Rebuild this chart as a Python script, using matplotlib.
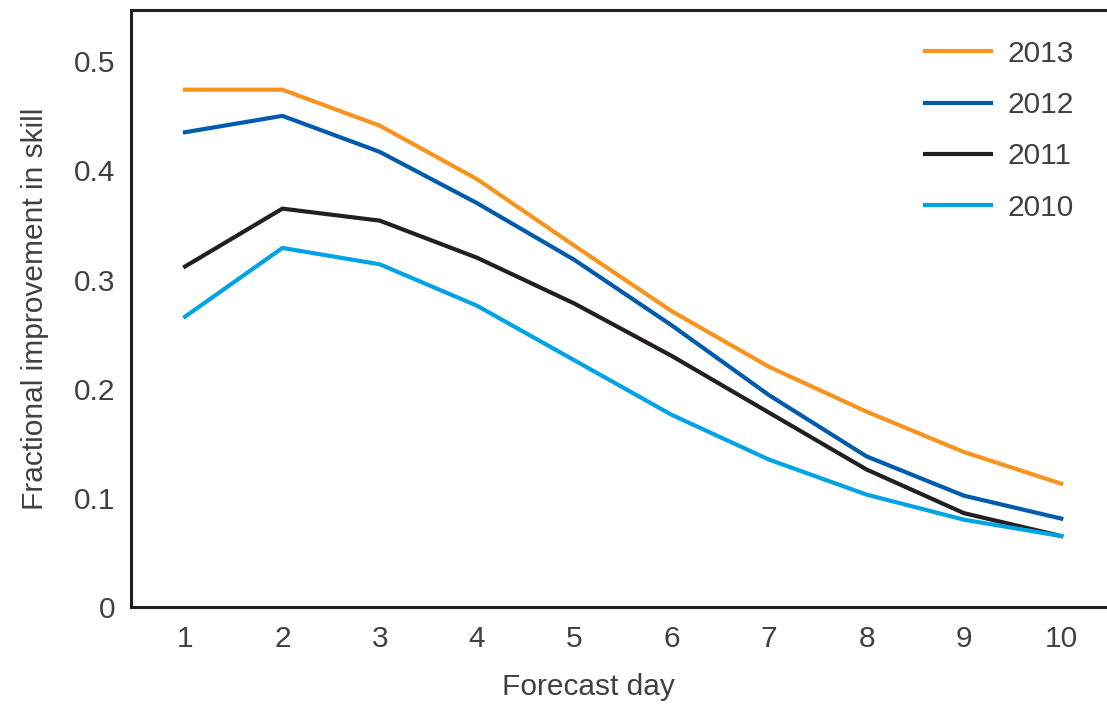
import matplotlib
matplotlib.use("Agg")
import matplotlib.pyplot as plt

plt.rcParams['font.family'] = ['Liberation Sans', 'DejaVu Sans']

days = [1, 2, 3, 4, 5, 6, 7, 8, 9, 10]
y2013 = [0.474, 0.474, 0.441, 0.392, 0.331, 0.271, 0.220, 0.179, 0.142, 0.113]
y2012 = [0.435, 0.450, 0.417, 0.370, 0.318, 0.258, 0.194, 0.138, 0.102, 0.081]
y2011 = [0.312, 0.365, 0.354, 0.320, 0.278, 0.230, 0.178, 0.126, 0.086, 0.065]
y2010 = [0.266, 0.329, 0.314, 0.276, 0.226, 0.176, 0.135, 0.103, 0.080, 0.065]
yticks = [0, 0.1, 0.2, 0.3, 0.4, 0.5]
ytick_labels = ["0", "0.1", "0.2", "0.3", "0.4", "0.5"]

txt = "#404040"
fs = 21.5
fig = plt.figure(figsize=(11.07, 7.04), dpi=100)
ax = fig.add_axes([131/1107, 97/704, 1 - 131/1107, (607-10)/704])

ax.plot(days, y2013, color="#F7941D", lw=3, label="2013")
ax.plot(days, y2012, color="#005BAA", lw=3, label="2012")
ax.plot(days, y2011, color="#231F20", lw=3, label="2011")
ax.plot(days, y2010, color="#00A3E4", lw=3, label="2010")

ax.set_xlim(0.445, 10.47)
ax.set_ylim(0, 0.547)
ax.set_xticks(days)
ax.set_yticks(yticks)
ax.set_yticklabels(ytick_labels)
ax.tick_params(length=0, labelsize=fs, colors=txt)
ax.tick_params(axis="y", pad=11)
ax.tick_params(axis="x", pad=13)
for s in ["top", "left", "bottom"]:
    ax.spines[s].set_linewidth(2.2)
    ax.spines[s].set_color("#231F20")
ax.spines["right"].set_visible(False)

ax.set_xlabel("Forecast day", fontsize=fs, color=txt, labelpad=14)
ax.xaxis.set_label_coords(0.469, -0.11)
ax.set_ylabel("Fractional improvement in skill", fontsize=fs, color=txt, labelpad=18)

leg = ax.legend(loc="upper left", bbox_to_anchor=(0.786, 0.995), frameon=False,
                fontsize=fs, handlelength=2.2, labelspacing=0.78, handletextpad=0.55)
for t in leg.get_texts():
    t.set_color(txt)

fig.savefig("out.png", dpi=100)
